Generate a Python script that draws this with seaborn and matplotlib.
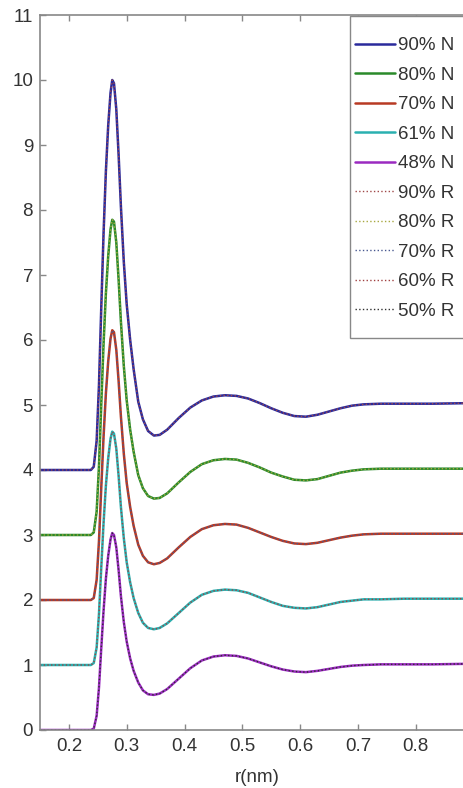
import pandas as pd
import numpy as np
import matplotlib
matplotlib.use("Agg")
import matplotlib.pyplot as plt
import seaborn as sns

# r grid (nm)
r_nm = [0.15, 0.238, 0.243, 0.248, 0.252, 0.256, 0.260, 0.264, 0.268, 0.272,
        0.275, 0.278, 0.282, 0.286, 0.290, 0.295, 0.300, 0.306, 0.312, 0.320,
        0.328, 0.337, 0.347, 0.357, 0.370, 0.390, 0.410, 0.430, 0.450, 0.470,
        0.490, 0.510, 0.530, 0.550, 0.570, 0.590, 0.610, 0.630, 0.650, 0.670,
        0.690, 0.710, 0.740, 0.780, 0.830, 0.900]

# g(r) of each curve before the vertical shift
g90 = [0.00, 0.00, 0.05, 0.45, 1.30, 2.50, 3.65, 4.60, 5.30, 5.80,
       6.00, 5.95, 5.55, 4.85, 4.05, 3.20, 2.55, 2.00, 1.55, 1.05,
       0.78, 0.60, 0.53, 0.54, 0.62, 0.80, 0.96, 1.07, 1.13, 1.15,
       1.14, 1.10, 1.03, 0.95, 0.88, 0.83, 0.82, 0.85, 0.90, 0.95,
       0.99, 1.01, 1.02, 1.02, 1.02, 1.03]
g80 = [0.00, 0.00, 0.04, 0.36, 1.05, 2.02, 2.95, 3.72, 4.29, 4.70,
       4.85, 4.82, 4.50, 3.93, 3.28, 2.60, 2.07, 1.62, 1.28, 0.92,
       0.72, 0.60, 0.56, 0.57, 0.64, 0.81, 0.97, 1.09, 1.15, 1.17,
       1.16, 1.11, 1.04, 0.96, 0.90, 0.85, 0.84, 0.86, 0.91, 0.96,
       0.99, 1.01, 1.02, 1.02, 1.02, 1.02]
g70 = [0.00, 0.00, 0.03, 0.31, 0.90, 1.73, 2.52, 3.18, 3.67, 4.02,
       4.15, 4.12, 3.85, 3.37, 2.82, 2.25, 1.80, 1.43, 1.14, 0.85,
       0.68, 0.58, 0.55, 0.57, 0.64, 0.81, 0.97, 1.09, 1.15, 1.17,
       1.16, 1.11, 1.04, 0.97, 0.91, 0.87, 0.86, 0.88, 0.92, 0.96,
       0.99, 1.01, 1.02, 1.02, 1.02, 1.02]
g61 = [0.00, 0.00, 0.03, 0.27, 0.78, 1.50, 2.19, 2.76, 3.18, 3.48,
       3.59, 3.56, 3.33, 2.91, 2.43, 1.95, 1.58, 1.27, 1.03, 0.80,
       0.65, 0.57, 0.55, 0.57, 0.64, 0.80, 0.96, 1.08, 1.14, 1.16,
       1.15, 1.11, 1.04, 0.97, 0.91, 0.88, 0.87, 0.89, 0.93, 0.97,
       0.99, 1.01, 1.01, 1.02, 1.02, 1.02]
g48 = [0.00, 0.00, 0.02, 0.22, 0.65, 1.26, 1.84, 2.33, 2.68, 2.93,
       3.03, 3.00, 2.81, 2.46, 2.06, 1.66, 1.36, 1.10, 0.91, 0.73,
       0.61, 0.55, 0.54, 0.56, 0.63, 0.79, 0.95, 1.07, 1.13, 1.15,
       1.14, 1.10, 1.04, 0.98, 0.93, 0.90, 0.89, 0.91, 0.94, 0.97,
       0.99, 1.00, 1.01, 1.01, 1.01, 1.02]

labels_N = ['90% N', '80% N', '70% N', '61% N', '48% N']
labels_R = ['90% R', '80% R', '70% R', '60% R', '50% R']
shifts = [4, 3, 2, 1, 0]
curves_N = [g90, g80, g70, g61, g48]
# the R curves lie on top of the N curves within the picture's resolution
curves_R = [g90, g80, g70, g61, g48]

colors_N = ['#2a2a9c', '#2a8a2a', '#b83a24', '#2ab0b0', '#9a2ac0']
colors_R = ['#a04848', '#a8a840', '#485890', '#a04040', '#303030']

sns.set_style("ticks")
plt.rcParams['font.family'] = ['Liberation Sans', 'DejaVu Sans']

fig = plt.figure(figsize=(4.63, 7.88), dpi=100)
ax = fig.add_axes([40 / 463, 58 / 788, 433.5 / 463, 715 / 788])

for lab, g, s, c in zip(labels_N, curves_N, shifts, colors_N):
    df = pd.DataFrame({'r': r_nm, 'g': np.array(g) + s})
    sns.lineplot(data=df, x='r', y='g', ax=ax, color=c, lw=1.8,
                 label=lab, sort=False, estimator=None)
for lab, g, s, c in zip(labels_R, curves_R, shifts, colors_R):
    df = pd.DataFrame({'r': r_nm, 'g': np.array(g) + s})
    sns.lineplot(data=df, x='r', y='g', ax=ax, color=c, lw=1.0,
                 linestyle=':', label=lab, sort=False, estimator=None)

ax.set_xlim(0.15, 0.9)
ax.set_ylim(0, 11)
ax.set_xticks([0.2, 0.3, 0.4, 0.5, 0.6, 0.7, 0.8])
ax.set_xticklabels(['0.2', '0.3', '0.4', '0.5', '0.6', '0.7', '0.8'])
ax.set_yticks(range(0, 12))
ax.set_xlabel('r(nm)', fontsize=13.5, color='#333333', labelpad=10)
ax.set_ylabel('')
ax.tick_params(direction='in', length=4, width=1, color='#888888',
               labelsize=13.5, labelcolor='#333333', top=True, right=True)
ax.tick_params(axis='x', pad=6)
ax.tick_params(axis='y', pad=5)
for sp in ax.spines.values():
    sp.set_color('#888888')
    sp.set_linewidth(1.2)

# legend box drawn by hand so its inner margins match the picture
leg = ax.legend(loc='upper left', bbox_to_anchor=(355 / 463, 1 - 37 / 788),
                bbox_transform=fig.transFigure, fontsize=13.5, frameon=False,
                borderaxespad=0, borderpad=0, handlelength=2.15,
                handletextpad=0.12, labelspacing=0.66)
for t in leg.get_texts():
    t.set_color('#333333')
box = plt.Rectangle((350 / 463, 1 - 338 / 788), 130 / 463, 322 / 788,
                    transform=fig.transFigure, facecolor='white',
                    edgecolor='#888888', lw=1.0, zorder=4, clip_on=False)
ax.add_patch(box)
leg.set_zorder(6)

fig.savefig('out.png', dpi=100)
